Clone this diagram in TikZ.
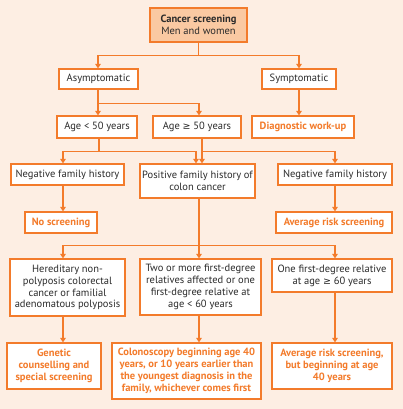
\documentclass[tikz,border=0pt]{standalone}
\usepackage{fontspec}
\setmainfont{PT Sans}
\newfontfamily\symf{DejaVu Sans}
\usetikzlibrary{arrows.meta}
\definecolor{bgc}{HTML}{FDEEE3}
\definecolor{orn}{HTML}{F37B2B}
\definecolor{topfill}{HTML}{FAC9A2}
\definecolor{txt}{HTML}{2B2B2B}
\newcommand{\geqs}{{\symf\fontsize{9.5}{11}\selectfont ≥}}
\tikzset{
  box/.style={draw=orn, line width=1.2pt, fill=white, text=txt, align=center,
    inner sep=0pt, font=\fontsize{10.5}{11.8}\selectfont},
  outc/.style={box, text=orn, font=\fontsize{10.5}{11.8}\selectfont\bfseries},
  arr/.style={draw=orn, line width=1.5pt, -{Triangle[width=5.5pt,length=4.5pt]}},
}
\begin{document}
\begin{tikzpicture}[x=1pt,y=-1pt]
\fill[bgc] (0,0) rectangle (403,409);
\useasboundingbox (0,0) rectangle (403,409);
\node[box, fill=topfill, minimum width=97pt, minimum height=34pt] (top) at (198.5,25)
  {{\bfseries Cancer screening}\\Men and women};
\node[box, minimum width=79pt, minimum height=20pt] (asym) at (98.5,79) {Asymptomatic};
\node[box, minimum width=74pt, minimum height=20pt] (sym) at (299,79) {Symptomatic};
\node[box, minimum width=80pt, minimum height=22pt] (age1) at (97,127) {Age < 50 years};
\node[box, minimum width=88pt, minimum height=22pt] (age2) at (197,127) {Age \geqs{} 50 years};
\node[outc, minimum width=102pt, minimum height=22pt] (diag) at (303,127) {Diagnostic work-up};
\node[box, minimum width=113pt, minimum height=21pt] (neg1) at (67.5,174.5) {Negative family history};
\node[box, minimum width=115pt, minimum height=34pt] (pos) at (197.5,181) {Positive family history of\\colon cancer};
\node[box, minimum width=114pt, minimum height=21pt] (neg2) at (335,174.5) {Negative family history};
\node[outc, minimum width=72pt, minimum height=21pt] (nos) at (61,222.5) {No screening};
\node[outc, minimum width=116pt, minimum height=21pt] (avg) at (334,222.5) {Average risk screening};
\node[box, minimum width=115pt, minimum height=57pt] (her) at (67.5,287.5)
  {Hereditary non-\\polyposis colorectal\\cancer or familial\\adenomatous polyposis};
\node[box, minimum width=121pt, minimum height=56pt] (two) at (200.5,287)
  {Two or more first-degree\\relatives affected or one\\first-degree relative at\\age < 60 years};
\node[box, minimum width=120pt, minimum height=33pt] (one) at (332,275.5)
  {One first-degree relative\\at age \geqs{} 60 years};
\node[outc, minimum width=94pt, minimum height=46pt] (gen) at (54,366)
  {Genetic\\counselling and\\special screening};
\node[outc, minimum width=149pt, minimum height=56pt] (col) at (186.5,371)
  {Colonoscopy beginning age 40\\years, or 10 years earlier than\\the youngest diagnosis in the\\family, whichever comes first};
\node[outc, minimum width=120pt, minimum height=46pt] (avg2) at (332,366)
  {Average risk screening,\\but beginning at age\\40 years};
% connectors
\draw[arr] (top.south) -- ++(0,13) -| ([xshift=-0.5pt]asym.north);
\draw[arr] (top.south) -- ++(0,13) -| (sym.north);
\draw[arr] ([xshift=-0.5pt]asym.south) -- ++(0,14) -| ([xshift=1pt]age1.north);
\draw[arr] ([xshift=-0.5pt]asym.south) -- ++(0,14) -| ([xshift=2pt]age2.north);
\draw[arr] (sym.south) -- (sym.south |- diag.north);
\draw[arr] ([xshift=2pt]age1.south) -- ++(0,13) -| ([xshift=-4.5pt]neg1.north);
\draw[arr] ([xshift=2pt]age1.south) -- ++(0,13) -| ([xshift=-1.5pt]pos.north);
\draw[arr] ([xshift=5pt]age2.south) -- ++(0,13) -| ([xshift=4.5pt]pos.north);
\draw[arr] ([xshift=5pt]age2.south) -- ++(0,13) -| (neg2.north);
\draw[arr] ([xshift=-4.5pt]neg1.south) -- ([xshift=-4.5pt]neg1.south |- nos.north);
\draw[arr] (neg2.south) -- (neg2.south |- avg.north);
\draw[arr] ([xshift=1.5pt]pos.south) -- ++(0,47) -| ([xshift=-4.5pt]her.north);
\draw[arr] ([xshift=1.5pt]pos.south) -- ++(0,47) -| ([xshift=-1.5pt]two.north);
\draw[arr] ([xshift=1.5pt]pos.south) -- ++(0,47) -| ([xshift=3pt]one.north);
\draw[arr] ([xshift=-4.5pt]her.south) -- ([xshift=-4.5pt]her.south |- gen.north);
\draw[arr] ([xshift=-1.5pt]two.south) -- ([xshift=-1.5pt]two.south |- col.north);
\draw[arr] ([xshift=3pt]one.south) -- ([xshift=3pt]one.south |- avg2.north);
\end{tikzpicture}
\end{document}
